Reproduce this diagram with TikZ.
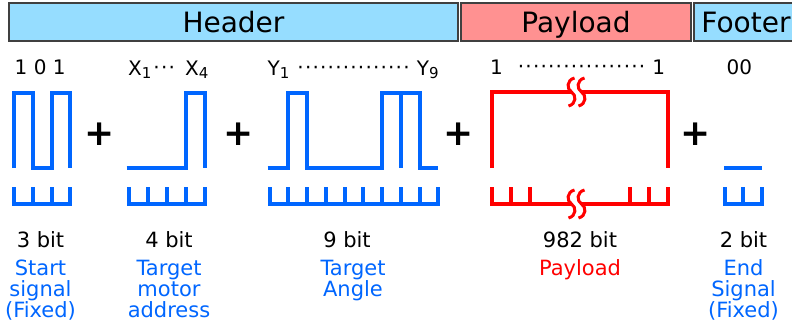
\documentclass[tikz,border=0pt]{standalone}
\usepackage{fontspec}
\setmainfont{DejaVu Sans}
\usepackage{xcolor}
\usepackage{tikz}
\usetikzlibrary{positioning}
\definecolor{azul}{RGB}{0,102,255}
\definecolor{vermelho}{RGB}{255,0,0}
\definecolor{ceu}{RGB}{150,221,255}
\definecolor{rosa}{RGB}{255,145,145}
\tikzset{
  campo/.style={draw=black!75, line width=1.5pt, fill=#1, minimum height=38pt, inner sep=0pt, text height=20.5pt, text depth=0.5pt, font=\fontsize{28}{30}\selectfont},
  onda/.style={draw=azul, line width=4pt},
  dado/.style={draw=vermelho, line width=4pt},
  quebra/.style={draw=vermelho, line width=3pt},
  rotulo/.style={font=\fontsize{20}{22}\selectfont, anchor=base west, inner sep=0pt},
  bits/.style={font=\fontsize{21}{21}\selectfont, anchor=base, inner sep=0pt},
  desc/.style={font=\fontsize{21}{21}\selectfont, text=azul, align=center, inner sep=0pt},
  mais/.style={font=\fontsize{36}{36}\selectfont\bfseries, inner sep=0pt},
}
\newcommand{\pontos}[1]{\raisebox{1pt}{\foreach \p in {1,...,#1}{\textperiodcentered\kern1.2pt}}}
\newcommand{\ind}[1]{\raisebox{-3.5pt}{\fontsize{15}{15}\selectfont#1}}

\begin{document}
\begin{tikzpicture}[x=1pt, y=-1pt]
  \useasboundingbox (0,0) rectangle (792,324);
  \node[campo=ceu, minimum width=449pt] (header) at (233.5,22) {Header};
  \node[campo=rosa, minimum width=230pt, right=1.5pt of header] (payload) {Payload};
  \node[campo=ceu, minimum width=104pt, right=1.5pt of payload] (footer) {Footer};

  \node[rotulo] (bstart) at (14.5,74) {1 0 1};
  \node[rotulo] (bmotor) at (128,75) {X\ind{1}\kern2pt\pontos{3}\hspace{9pt}X\ind{4}};
  \node[rotulo] (bangle) at (267.5,75) {Y\ind{1}\hspace{8pt}\pontos{15}\hspace{6pt}Y\ind{9}};
  \node[rotulo] (bdata) at (490,74) {1\hspace{15pt}\pontos{17}\hspace{6pt}1};
  \node[rotulo] (bend) at (726.5,74) {00};

  \node[mais] (p1) at (100,134) {+};
  \node[mais] (p2) at (239,134) {+};
  \node[mais] (p3) at (459,134) {+};
  \node[mais] (p4) at (695.5,134) {+};

  \draw[onda] (14,168) -- (14,93) -- (32.8,93) -- (32.8,168) -- (51.6,168) -- (51.6,93) -- (70.4,93) -- (70.4,168);
  \draw[onda] (14,187) -- (14,204) -- (70.4,204) -- (70.4,187);
  \foreach \i in {1,2} \draw[onda] ({14+18.8*\i},187) -- ++(0,17);

  \draw[onda] (126.7,168) -- (185.7,168) -- (185.7,93) -- (204.7,93) -- (204.7,168);
  \draw[onda] (128.7,187) -- (128.7,204) -- (204.7,204) -- (204.7,187);
  \foreach \i in {1,2,3} \draw[onda] ({128.7+19*\i},187) -- ++(0,17);

  \draw[onda] (267.5,168) -- (288.25,168) -- (288.25,93) -- (307,93) -- (307,168) -- (381.75,168) -- (381.75,93) -- (419.5,93) -- (419.5,168) -- (438.25,168);
  \draw[onda] (400.75,93) -- (400.75,168);
  \draw[onda] (269.5,187) -- (269.5,204) -- (438.25,204) -- (438.25,187);
  \foreach \i in {1,...,8} \draw[onda] ({269.5+18.75*\i},187) -- ++(0,17);

  \draw[dado] (492,168) -- (492,92) -- (571.5,92);
  \draw[dado] (581.5,92) -- (668,92) -- (668,168);
  \draw[dado] (492,187) -- (492,204) -- (571.5,204);
  \draw[dado] (581.5,204) -- (668,204) -- (668,187);
  \foreach \x in {511,530,630,649} \draw[dado] (\x,187) -- (\x,204);
  \foreach \y in {92,204}
    \foreach \s in {571.5,581.5}
      \draw[quebra] ({\s+3},{\y-14}) .. controls ({\s-5},{\y-12}) and ({\s-5},{\y-3}) .. (\s,\y) .. controls ({\s+5},{\y+3}) and ({\s+5},{\y+12}) .. ({\s-3},{\y+14});

  \draw[onda] (724,168) -- (762,168);
  \draw[onda] (724.5,187) -- (724.5,204) -- (761.5,204) -- (761.5,187);
  \draw[onda] (743,187) -- (743,204);

  \node[bits] (nstart) at (40.5,247) {3 bit};
  \node[bits] (nmotor) at (169,247) {4 bit};
  \node[bits] (nangle) at (347,247) {9 bit};
  \node[bits] (ndata) at (580,247) {982 bit};
  \node[bits] (nend) at (743.5,247) {2 bit};

  \node[desc, below=12pt of nstart] (dstart) {Start\\signal\\(Fixed)};
  \node[desc, below=12pt of nmotor] (dmotor) {Target\\motor\\address};
  \node[desc, below=12pt of nangle, xshift=6pt] (dangle) {Target\\Angle};
  \node[desc, below=12pt of ndata, text=vermelho] (ddata) {Payload};
  \node[desc, below=12pt of nend] (dend) {End\\Signal\\(Fixed)};
\end{tikzpicture}
\end{document}
